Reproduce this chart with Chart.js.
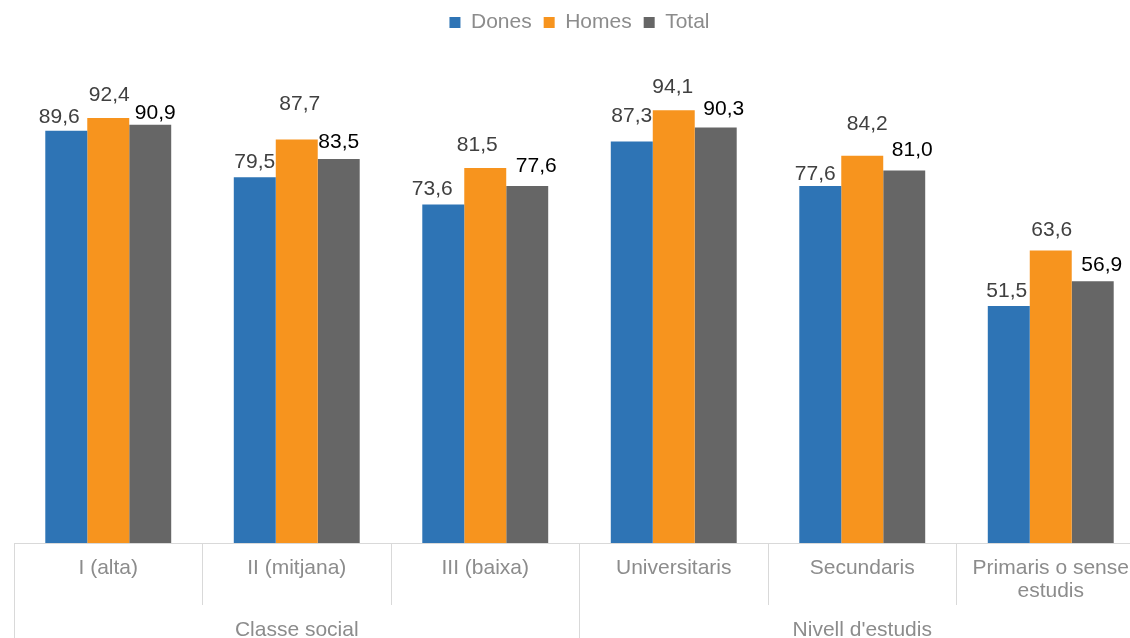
<!DOCTYPE html>
<html lang="ca">
<head>
<meta charset="utf-8">
<title>Dones, Homes i Total per classe social i nivell d'estudis</title>
<script src="https://cdn.jsdelivr.net/npm/chart.js@4.4.0/dist/chart.umd.min.js"></script>
<style>
  html, body { margin: 0; padding: 0; background: #fff; overflow: hidden; }
  #wrap { width: 1150px; height: 638px; }
</style>
</head>
<body>
<div id="wrap"><canvas id="chart" width="1150" height="638"></canvas></div>
<script>
// Categories and the two group headers under them
const categories = ['I (alta)', 'II (mitjana)', 'III (baixa)', 'Universitaris', 'Secundaris', ['Primaris o sense', 'estudis']];
const groups = ['Classe social', "Nivell d'estudis"];

// Series values (%)
const dones = [89.6, 79.5, 73.6, 87.3, 77.6, 51.5];
const homes = [92.4, 87.7, 81.5, 94.1, 84.2, 63.6];
const total = [90.9, 83.5, 77.6, 90.3, 81.0, 56.9];

// Value label nudges per bar: [dx, gap above the bar top]
const nudgeDones = [[-7, 8], [0, 9], [-11, 9], [0, 19], [-5, 6], [-2, 9]];
const nudgeHomes = [[1, 17], [3, 30], [-8, 17], [-1, 17], [5, 26], [1, 14]];
const nudgeTotal = [[5, 6], [0, 11], [9, 14], [8, 13], [8, 14], [9, 10]];

const FONT = '"Liberation Sans", Arial, sans-serif';

// extra room under the legend
const legendSpace = {
    id: 'legendSpace',
    beforeInit(chart) {
        const fit = chart.legend.fit;
        chart.legend.fit = function () {
            fit.call(this);
            this.height = 83;
        };
    }
};

// numbers above the bars, with decimal comma
const valueLabels = {
    id: 'valueLabels',
    afterDatasetsDraw(chart) {
        const ctx = chart.ctx;
        ctx.save();
        ctx.font = '21px ' + FONT;
        ctx.textAlign = 'center';
        ctx.textBaseline = 'alphabetic';
        chart.data.datasets.forEach((ds, i) => {
            chart.getDatasetMeta(i).data.forEach((bar, j) => {
                const [dx, gap] = ds.nudge[j];
                ctx.fillStyle = ds.labelColor;
                ctx.fillText(ds.data[j].toFixed(1).replace('.', ','), bar.x + dx, bar.y - gap);
            });
        });
        ctx.restore();
    }
};

new Chart(document.getElementById('chart'), {
    type: 'bar',
    data: {
        labels: categories,
        datasets: [
            { label: 'Dones', data: dones, backgroundColor: '#2e74b5', labelColor: '#404040', nudge: nudgeDones },
            { label: 'Homes', data: homes, backgroundColor: '#f7941e', labelColor: '#404040', nudge: nudgeHomes },
            { label: 'Total', data: total, backgroundColor: '#666666', labelColor: '#000000', nudge: nudgeTotal }
        ]
    },
    options: {
        responsive: false,
        animation: false,
        layout: { padding: { left: 14, right: 5, top: 0, bottom: 0 } },
        datasets: { bar: { barPercentage: 1, categoryPercentage: 0.668 } },
        scales: {
            y: { display: false, min: 0, max: 100 },
            x: {
                grid: { offset: true, drawOnChartArea: false, tickLength: 62, color: '#d9d9d9' },
                border: { color: '#d9d9d9' },
                ticks: { color: '#8c8c8c', font: { family: FONT, size: 21, lineHeight: 1.12 }, padding: -49, maxRotation: 0, autoSkip: false },
                afterFit(scale) { scale.height = 62; }
            },
            x2: {
                type: 'category',
                position: 'bottom',
                weight: 1,
                labels: groups,
                offset: true,
                grid: { offset: true, drawOnChartArea: false, tickLength: 40, color: '#d9d9d9' },
                border: { display: false },
                ticks: { color: '#8c8c8c', font: { family: FONT, size: 21, lineHeight: 1.12 }, padding: -27, maxRotation: 0, autoSkip: false },
                afterFit(scale) { scale.height = 33; }
            }
        },
        plugins: {
            legend: {
                position: 'top',
                labels: {
                    boxWidth: 11,
                    boxHeight: 11,
                    padding: 12,
                    color: '#8c8c8c',
                    font: { family: FONT, size: 21 }
                }
            },
            tooltip: { enabled: false }
        }
    },
    plugins: [legendSpace, valueLabels]
});
</script>
</body>
</html>
